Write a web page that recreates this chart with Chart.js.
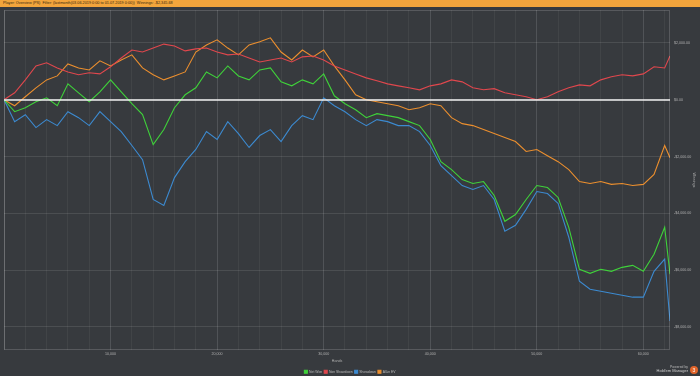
<!DOCTYPE html>
<html lang="en">
<head>
    <meta charset="UTF-8">
    <title>Winnings Graph</title>
    <style>
        body {
            margin: 0;
            padding: 0;
            background: #373a3e;
            font-family: "Liberation Sans", Arial, sans-serif;
            overflow: hidden;
        }

        #topbar {
            position: absolute;
            left: 0;
            top: 0;
            width: 700px;
            height: 7px;
            background: #f3a53c;
            color: #3a2a10;
            font-size: 3.8px;
            line-height: 7px;
            padding-left: 3px;
            box-sizing: border-box;
            white-space: nowrap;
        }

        #wrap {
            position: absolute;
            left: 0;
            top: 0;
            width: 700px;
            height: 376px;
        }

        #powered {
            position: absolute;
            right: 12px;
            top: 365px;
            color: #b8b8b8;
            font-size: 3.4px;
            line-height: 4px;
            text-align: right;
        }

        #powered b {
            font-size: 4px;
            font-weight: normal;
            color: #d0d0d0;
        }

        #logo {
            position: absolute;
            left: 690px;
            top: 366px;
            width: 8px;
            height: 8px;
            border-radius: 50%;
            background: #e0642a;
            color: #fff;
            font-size: 5px;
            line-height: 8px;
            text-align: center;
        }
    </style>
</head>
<body>
<div id="wrap"><canvas id="graph" width="700" height="376"></canvas></div>
<div id="topbar">Player: Overview (PS) &nbsp;Filter: (lastmonth(03.06.2019 0:00 to 01.07.2019 0:00)) &nbsp;Winnings: -$2,345.68</div>
<div id="powered">Powered by<br><b>Hold'em Manager</b></div>
<div id="logo">3</div>

<script src="https://cdn.jsdelivr.net/npm/chart.js"></script>
<script>
    // hands played (x values)
    var hands = [0, 1000, 2000, 3000, 4000, 5000, 6000, 7000, 8000, 9000,
        10000, 11000, 12000, 13000, 14000, 15000, 16000, 17000, 18000, 19000,
        20000, 21000, 22000, 23000, 24000, 25000, 26000, 27000, 28000, 29000,
        30000, 31000, 32000, 33000, 34000, 35000, 36000, 37000, 38000, 39000,
        40000, 41000, 42000, 43000, 44000, 45000, 46000, 47000, 48000, 49000,
        50000, 51000, 52000, 53000, 54000, 55000, 56000, 57000, 58000, 59000,
        60000, 61000, 62000, 62500];

    var netWon = [0, -420, -280, -70, 70, -210, 560, 245, -70, 280,
        700, 280, -140, -525, -1580, -1050, -280, 175, 420, 980,
        770, 1190, 840, 700, 1050, 1120, 630, 490, 700, 560,
        910, 140, -140, -350, -630, -490, -560, -630, -770, -910,
        -1400, -2180, -2460, -2810, -2950, -2880, -3370, -4280, -4040, -3510,
        -3020, -3090, -3440, -4490, -5970, -6110, -5970, -6040, -5900, -5830,
        -6040, -5440, -4490, -6140];

    var nonShowdown = [0, 245, 700, 1190, 1300, 1120, 980, 880, 950, 910,
        1160, 1470, 1750, 1680, 1820, 1960, 1890, 1720, 1790, 1820,
        1680, 1580, 1610, 1470, 1330, 1400, 1470, 1330, 1510, 1540,
        1400, 1190, 1050, 910, 770, 670, 560, 490, 420, 350,
        490, 560, 700, 630, 420, 350, 390, 245, 175, 105,
        0, 105, 280, 420, 525, 490, 700, 810, 880, 840,
        910, 1160, 1120, 1540];

    var showdown = [0, -770, -525, -980, -700, -910, -420, -630, -910, -420,
        -770, -1120, -1610, -2110, -3510, -3720, -2740, -2180, -1750, -1120,
        -1400, -770, -1190, -1680, -1260, -1050, -1470, -910, -560, -700,
        70, -210, -420, -700, -910, -700, -770, -910, -910, -1120,
        -1610, -2320, -2670, -3020, -3160, -3020, -3510, -4630, -4420, -3860,
        -3230, -3300, -3650, -4840, -6390, -6670, -6740, -6810, -6880, -6950,
        -6950, -6040, -5610, -7790];

    var allInEV = [0, -210, 105, 420, 700, 840, 1260, 1120, 1050, 1370,
        1190, 1400, 1580, 1120, 880, 700, 840, 980, 1680, 1930,
        2110, 1820, 1580, 1930, 2040, 2180, 1680, 1400, 1750, 1510,
        1750, 1190, 700, 175, 0, -70, -140, -210, -350, -280,
        -140, -210, -630, -840, -910, -1050, -1190, -1330, -1470, -1820,
        -1750, -1970, -2180, -2460, -2880, -2950, -2880, -2980, -2950, -3020,
        -2980, -2630, -1610, -2040];

    var seriesNames = ["Net Won", "Non Showdown", "Showdown", "All-in EV"];
    var seriesColors = ["#3fd23a", "#e0474d", "#3c8ad0", "#ec8f2e"];

    var yTicks = [2000, 0, -2000, -4000, -6000, -8000];
    var xTicks = [];
    for (var h = 0; h <= 62000; h += 2000) xTicks.push(h);

    function toPoints(values) {
        return values.map(function (v, i) {
            return {x: hands[i], y: v};
        });
    }

    function money(v) {
        var s = Math.abs(v).toLocaleString("en-US", {minimumFractionDigits: 2, maximumFractionDigits: 2});
        return (v < 0 ? "-$" : "$") + s;
    }

    // plot frame + zero line
    var framePlugin = {
        id: "frame",
        afterDatasetsDraw: function (chart) {
            var ctx = chart.ctx;
            var a = chart.chartArea;
            ctx.save();
            ctx.strokeStyle = "rgba(255,255,255,0.16)";
            ctx.lineWidth = 1;
            ctx.strokeRect(a.left + 0.5, a.top + 0.5, a.right - a.left - 1, a.bottom - a.top - 1);
            var y0 = Math.round(chart.scales.y.getPixelForValue(0));
            ctx.strokeStyle = "#f2f2f2";
            ctx.lineWidth = 1.5;
            ctx.beginPath();
            ctx.moveTo(a.left, y0);
            ctx.lineTo(a.right, y0);
            ctx.stroke();
            ctx.restore();
        }
    };

    var allSeries = [netWon, nonShowdown, showdown, allInEV];
    var datasets = allSeries.map(function (vals, i) {
        return {
            label: seriesNames[i],
            data: toPoints(vals),
            borderColor: seriesColors[i],
            backgroundColor: seriesColors[i],
            borderWidth: 1.1,
            pointRadius: 0,
            tension: 0
        };
    });

    var ctx = document.getElementById("graph").getContext("2d");
    new Chart(ctx, {
        type: "line",
        data: {datasets: datasets},
        plugins: [framePlugin],
        options: {
            responsive: false,
            animation: false,
            layout: {padding: {top: 10, left: 4, right: 4, bottom: -7.4}},
            plugins: {
                legend: {
                    position: "bottom",
                    labels: {
                        color: "#b8b8b8",
                        font: {size: 3.4},
                        boxWidth: 3,
                        boxHeight: 3,
                        padding: 2
                    }
                },
                tooltip: {enabled: false}
            },
            scales: {
                x: {
                    type: "linear",
                    min: 0,
                    max: 62500,
                    afterBuildTicks: function (scale) {
                        scale.ticks = xTicks.map(function (v) { return {value: v}; });
                    },
                    afterFit: function (scale) {
                        scale.height = 18;
                    },
                    ticks: {
                        color: "#b0b0b0",
                        font: {size: 3.6},
                        autoSkip: false,
                        maxRotation: 0,
                        padding: 2,
                        callback: function (v) {
                            return (v > 0 && v % 10000 === 0) ? v.toLocaleString("en-US") : "";
                        }
                    },
                    grid: {
                        color: function (c) {
                            return (c.tick && c.tick.value % 10000 === 0) ? "rgba(255,255,255,0.13)" : "rgba(255,255,255,0.05)";
                        },
                        drawTicks: false
                    },
                    border: {display: false},
                    title: {
                        display: true,
                        text: "Hands",
                        color: "#b0b0b0",
                        font: {size: 3.6},
                        padding: {top: 0, bottom: 5}
                    }
                },
                y: {
                    position: "right",
                    min: -8810,
                    max: 3160,
                    afterBuildTicks: function (scale) {
                        scale.ticks = yTicks.map(function (v) { return {value: v}; });
                    },
                    afterFit: function (scale) {
                        scale.width = 26;
                    },
                    ticks: {
                        color: "#b0b0b0",
                        font: {size: 3.6},
                        padding: 4,
                        callback: function (v) { return money(v); }
                    },
                    grid: {
                        color: "rgba(255,255,255,0.1)",
                        drawTicks: false
                    },
                    border: {display: false},
                    title: {
                        display: true,
                        text: "Winnings",
                        color: "#b0b0b0",
                        font: {size: 3.6},
                        padding: 0
                    }
                }
            }
        }
    });
</script>
</body>
</html>
